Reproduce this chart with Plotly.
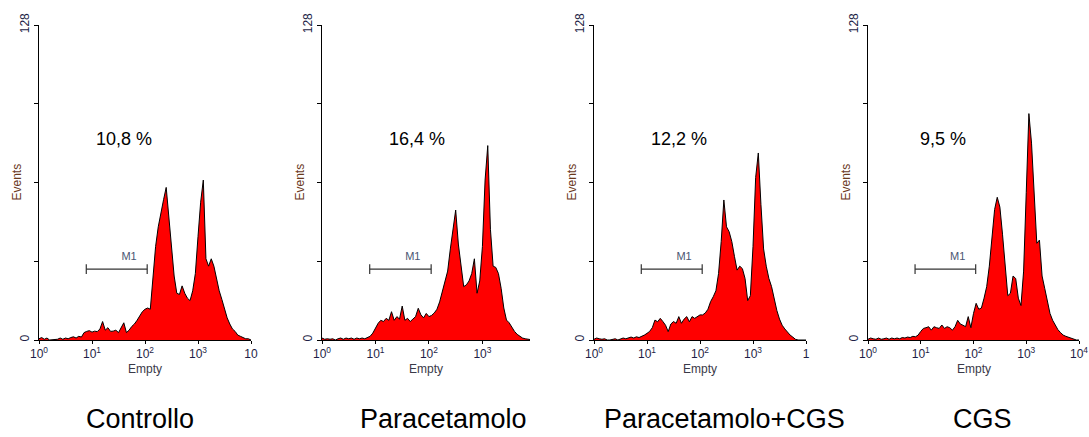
import plotly.graph_objects as go

# ---------------- data ----------------
panel_titles = ["Controllo", "Paracetamolo", "Paracetamolo+CGS", "CGS"]
percent_labels = ["10,8 %", "16,4 %", "12,2 %", "9,5 %"]

bin_step = 0.05          # decades per histogram channel
n_bins = 81              # channels from 10^0 to 10^4
channels = [10 ** (i * bin_step) for i in range(n_bins)]

counts_controllo = [
    0.5, 1, 0.3, 0.8, 0, 0, 0, 0.3, 0.8, 0.3,
    0.8, 0.5, 1, 1.3, 0.8, 1.5, 1.2, 3, 3.5, 3.8,
    3.2, 3.6, 3.4, 4.5, 7.5, 4, 5, 3.5, 3.6, 4,
    3, 5, 7, 3, 4, 5.5, 6.5, 8, 10, 11.5,
    12.5, 13, 12.5, 24, 38, 46, 52, 57, 62, 50,
    36, 26, 19, 18.5, 22, 19, 17, 16, 20, 27,
    42, 56, 65, 33, 30, 33, 30, 25, 20, 16.5,
    12.5, 9, 6.5, 4.5, 3.5, 2, 1.5, 1, 0.5, 0.5,
    0,
]
counts_paracetamolo = [
    0.8, 0.3, 0.5, 0.3, 0.5, 0, 0.5, 0.8, 0.3, 0.8,
    0.5, 0.8, 0.3, 0.8, 0.5, 0.8, 0.5, 1, 1.5, 2.8,
    5, 6.8, 8, 7.5, 8.8, 8, 11.5, 8, 9.5, 8.5,
    13.8, 8, 8.8, 7.5, 8.5, 9.5, 12.9, 10.2, 9, 10.8,
    9.5, 10, 11, 12.5, 15.5, 20, 24.4, 28, 37, 44.7,
    52.8, 39, 30.8, 21.7, 22.4, 24, 27, 33, 19, 24,
    38, 65, 79, 45, 30, 29.5, 27, 21, 13, 8.1,
    7, 5, 3.5, 2.3, 1.5, 0.8, 0.5, 0.3, 0, 0,
    0,
]
counts_para_cgs = [
    0.3, 0.8, 0.5, 0.3, 0.5, 0, 0, 0.3, 0.5, 0,
    0.5, 0.8, 0.5, 1, 1.2, 0.8, 1.3, 1, 1.4, 2,
    2.7, 3.5, 5, 8.1, 7.4, 8.8, 7.5, 6, 3.4, 6.5,
    7.5, 6.8, 9.5, 6.8, 8.5, 9.5, 7.4, 9.5, 8.8, 9.5,
    10.2, 10.2, 11, 12.5, 15.6, 17.6, 20, 27, 40, 56.9,
    46, 44, 40, 34, 28.4, 30, 29, 25, 16, 18,
    38, 66, 76, 55, 37, 30, 25, 21.7, 16.5, 12,
    8.5, 6, 4.5, 3.2, 2, 1.2, 0.3, 0, 0, 0,
    0,
]
counts_cgs = [
    0.3, 0.8, 0.5, 0.3, 0.8, 0.3, 0.5, 0.8, 0.3, 0.8,
    0.5, 0.8, 0.5, 1, 0.8, 1.2, 1, 1.5, 1.3, 2,
    3.5, 4.7, 5, 5.4, 4, 5.4, 5, 4.7, 6.1, 4.7,
    5.4, 5, 4, 5.4, 8, 6.5, 6, 5.4, 9.5, 5,
    10.8, 14.9, 12.5, 13, 17, 21.7, 30, 43, 53, 58,
    54, 43, 30, 18, 19, 26, 25, 17, 14, 28,
    60, 92, 80, 57, 39.3, 40.6, 26, 21, 16, 10.8,
    8, 6, 4.2, 3, 2, 1.5, 1.1, 0.6, 0.3, 0,
    0,
]
all_counts = [counts_controllo, counts_paracetamolo, counts_para_cgs, counts_cgs]

gate_m1 = [7.8, 110]      # M1 marker range
gate_level = 28.8         # events level of the M1 bar
m1_label_pos = [50, 33.5]
percent_x = [40, 60, 40, 26.5]
percent_y = 81

y_ticks = [0, 128]
y_ticktext = ["0", "128"]
y_minor_ticks = [32, 64, 96]
x_ticks_per_panel = [
    [1, 10, 100, 1000, 10000],
    [1, 10, 100, 1000],
    [1, 10, 100, 1000, 10000],
    [1, 10, 100, 1000, 10000],
]
x_ticktexts = [
    ["10<sup>0</sup>", "10<sup>1</sup>", "10<sup>2</sup>", "10<sup>3</sup>", "10"],
    ["10<sup>0</sup>", "10<sup>1</sup>", "10<sup>2</sup>", "10<sup>3</sup>"],
    ["10<sup>0</sup>", "10<sup>1</sup>", "10<sup>2</sup>", "10<sup>3</sup>", "1"],
    ["10<sup>0</sup>", "10<sup>1</sup>", "10<sup>2</sup>", "10<sup>3</sup>", "10<sup>4</sup>"],
]

# ---------------- layout geometry ----------------
W, H = 1089, 437
x_domains_px = [(39, 251), (322, 530), (594, 806), (868, 1079)]
x_ranges = [[0, 4], [0, 3.89], [0, 4], [0, 4]]
y_px_bottom, y_px_top = 340, 25
y_dom = [(H - y_px_bottom) / H, (H - y_px_top) / H]
title_centers_px = [140, 443, 724, 982]
title_center_y_px = 419

FONT = "Liberation Sans, Arial, sans-serif"

fig = go.Figure()
layout = dict(
    width=W, height=H,
    margin=dict(l=0, r=0, t=0, b=0, pad=0, autoexpand=False),
    paper_bgcolor="white", plot_bgcolor="white",
    showlegend=False,
    font=dict(family=FONT),
    annotations=[],
)

for i in range(4):
    sx = "" if i == 0 else str(i + 1)
    xref, yref = "x" + sx, "y" + sx
    counts = all_counts[i]

    fig.add_trace(go.Scatter(
        x=channels, y=counts, xaxis=xref, yaxis=yref,
        mode="lines", line=dict(color="black", width=1),
        fill="tozeroy", fillcolor="#ff0000", hoverinfo="skip",
    ))
    # M1 gate bar
    fig.add_trace(go.Scatter(
        x=gate_m1, y=[gate_level, gate_level], xaxis=xref, yaxis=yref,
        mode="lines+markers",
        line=dict(color="#333333", width=1.2),
        marker=dict(symbol="line-ns-open", size=7,
                    line=dict(color="#333333", width=1.2)),
        hoverinfo="skip",
    ))
    fig.add_trace(go.Scatter(
        x=[m1_label_pos[0]], y=[m1_label_pos[1]], xaxis=xref, yaxis=yref,
        mode="text", text=["M1"], textposition="middle center",
        textfont=dict(family=FONT, size=11, color="#4a5672"),
        hoverinfo="skip",
    ))
    fig.add_trace(go.Scatter(
        x=[percent_x[i]], y=[percent_y], xaxis=xref, yaxis=yref,
        mode="text", text=[percent_labels[i]], textposition="middle center",
        textfont=dict(family=FONT, size=18, color="black"),
        hoverinfo="skip",
    ))

    x0, x1 = x_domains_px[i]
    layout["xaxis" + sx] = dict(
        domain=[x0 / W, x1 / W], anchor=yref, type="log", range=x_ranges[i],
        showline=True, linecolor="black", linewidth=1, mirror=False,
        showgrid=False, zeroline=False, automargin=False,
        ticks="outside", ticklen=3, tickwidth=1, tickcolor="black",
        tickvals=x_ticks_per_panel[i], ticktext=x_ticktexts[i],
        tickfont=dict(family=FONT, size=12, color="#1e1e46"),
        ticklabeloverflow="allow",
    )
    layout["yaxis" + sx] = dict(
        domain=y_dom, anchor=xref, range=[0, 128],
        showline=True, linecolor="black", linewidth=1,
        showgrid=False, zeroline=False, automargin=False,
        ticks="outside", ticklen=4, tickwidth=1, tickcolor="black",
        tickvals=y_ticks, ticktext=y_ticktext, tickangle=-90,
        tickfont=dict(family=FONT, size=12, color="#1e1e46"),
        minor=dict(tickvals=y_minor_ticks, ticks="outside", ticklen=4,
                   tickwidth=1, tickcolor="black", showgrid=False),
    )
    # axis titles
    layout["annotations"].append(dict(
        text="Events", xref=xref + " domain", yref=yref + " domain",
        x=0, y=0.5, xanchor="center", yanchor="middle", xshift=-23,
        textangle=-90, showarrow=False,
        font=dict(family=FONT, size=12, color="#6b3a1e"),
    ))
    layout["annotations"].append(dict(
        text="Empty", xref=xref + " domain", yref=yref + " domain",
        x=0.5, y=0, xanchor="center", yanchor="middle", yshift=-29,
        showarrow=False,
        font=dict(family=FONT, size=12, color="#3a3a48"),
    ))
    # panel title
    layout["annotations"].append(dict(
        text=panel_titles[i], xref="paper", yref="paper",
        x=title_centers_px[i] / W, y=(H - title_center_y_px) / H,
        xanchor="center", yanchor="middle", showarrow=False,
        font=dict(family=FONT, size=27, color="black"),
    ))

fig.update_layout(**layout)
fig.write_html(
    "out.html",
    config={"displayModeBar": False, "staticPlot": True},
    post_script="document.body.style.margin='0px';document.body.style.overflow='hidden';",
)
